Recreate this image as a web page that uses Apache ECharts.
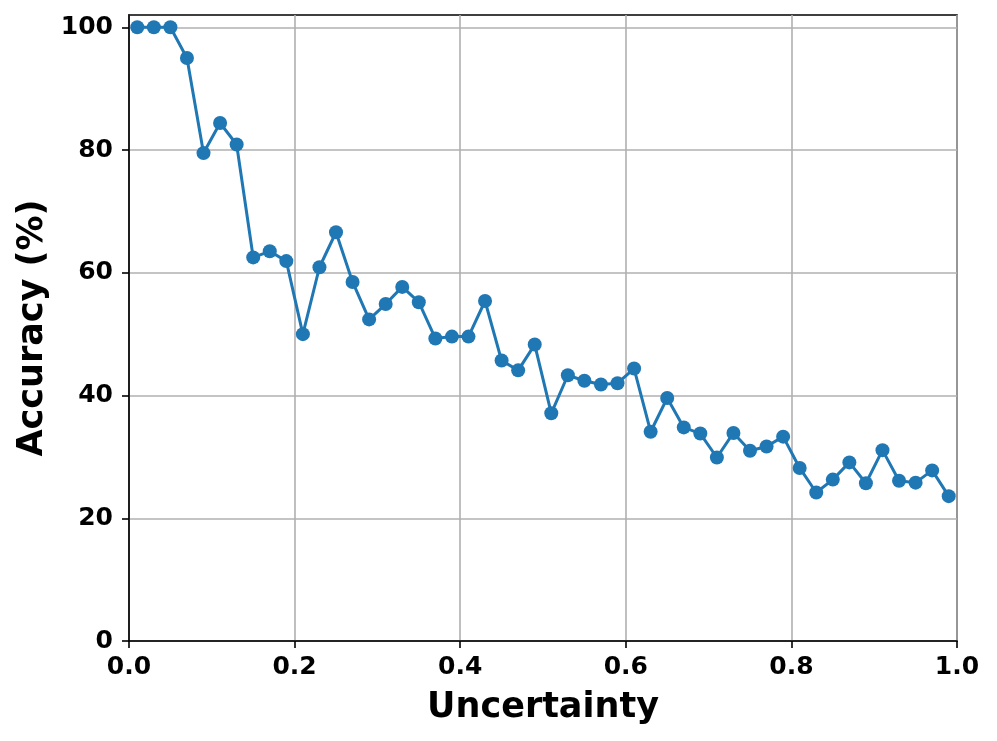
<!DOCTYPE html>
<html>
<head>
<meta charset="utf-8">
<script src="https://cdn.jsdelivr.net/npm/echarts@6/dist/echarts.min.js"></script>
<style>
html,body{margin:0;padding:0;background:#fff;}
#chart{width:997px;height:741px;}
</style>
</head>
<body>
<div id="chart"></div>
<script>
const uncertainty = [0.01,0.03,0.05,0.07,0.09,0.11,0.13,0.15,0.17,0.19,
                     0.21,0.23,0.25,0.27,0.29,0.31,0.33,0.35,0.37,0.39,
                     0.41,0.43,0.45,0.47,0.49,0.51,0.53,0.55,0.57,0.59,
                     0.61,0.63,0.65,0.67,0.69,0.71,0.73,0.75,0.77,0.79,
                     0.81,0.83,0.85,0.87,0.89,0.91,0.93,0.95,0.97,0.99];
const accuracy = [100,100,100,95.0,79.5,84.4,80.9,62.5,63.5,61.9,
                  50.0,60.9,66.6,58.5,52.4,54.9,57.7,55.2,49.3,49.6,
                  49.6,55.4,45.7,44.1,48.3,37.1,43.3,42.4,41.8,42.0,
                  44.4,34.1,39.6,34.8,33.8,29.9,33.9,31.0,31.7,33.3,
                  28.2,24.2,26.3,29.1,25.7,31.1,26.1,25.8,27.8,23.6];
const xTicks = [0, 0.2, 0.4, 0.6, 0.8, 1.0];
const yTicks = [0, 20, 40, 60, 80, 100];

const FONT = 'DejaVu Sans';
const chart = echarts.init(document.getElementById('chart'), null, {renderer: 'canvas'});
chart.setOption({
  animation: false,
  backgroundColor: '#ffffff',
  grid: {left: 129, right: 40, top: 15, bottom: 100, show: true,
         borderColor: '#000', borderWidth: 1.6, backgroundColor: 'transparent'},
  xAxis: {
    type: 'value', min: 0, max: 1, interval: 0.2,
    name: 'Uncertainty', nameLocation: 'middle', nameGap: 49,
    nameTextStyle: {fontFamily: FONT, fontWeight: 'bold', fontSize: 35, color: '#000'},
    axisLine: {show: true, lineStyle: {color: '#000', width: 1.6}},
    axisTick: {show: true, length: 7, inside: false, customValues: xTicks, lineStyle: {color: '#000', width: 1.6}},
    axisLabel: {fontFamily: FONT, fontWeight: 'bold', fontSize: 25, color: '#000', margin: 14,
                customValues: xTicks, formatter: v => v.toFixed(1)},
    splitLine: {show: true, lineStyle: {color: '#b0b0b0', width: 1.6}}
  },
  yAxis: {
    type: 'value', min: 0, max: 102, interval: 20,
    name: 'Accuracy (%)', nameLocation: 'middle', nameGap: 77,
    nameTextStyle: {fontFamily: FONT, fontWeight: 'bold', fontSize: 35, color: '#000'},
    axisLine: {show: true, lineStyle: {color: '#000', width: 1.6}},
    axisTick: {show: true, length: 7, inside: false, customValues: yTicks, lineStyle: {color: '#000', width: 1.6}},
    axisLabel: {fontFamily: FONT, fontWeight: 'bold', fontSize: 25, color: '#000', margin: 16,
                customValues: yTicks, formatter: v => String(v)},
    splitLine: {show: true, lineStyle: {color: '#b0b0b0', width: 1.6}}
  },
  series: [{
    type: 'line',
    data: uncertainty.map((u, i) => [u, accuracy[i]]),
    symbol: 'circle', symbolSize: 14,
    itemStyle: {color: '#1f77b4'},
    lineStyle: {color: '#1f77b4', width: 3},
    clip: false
  }]
});
</script>
</body>
</html>
